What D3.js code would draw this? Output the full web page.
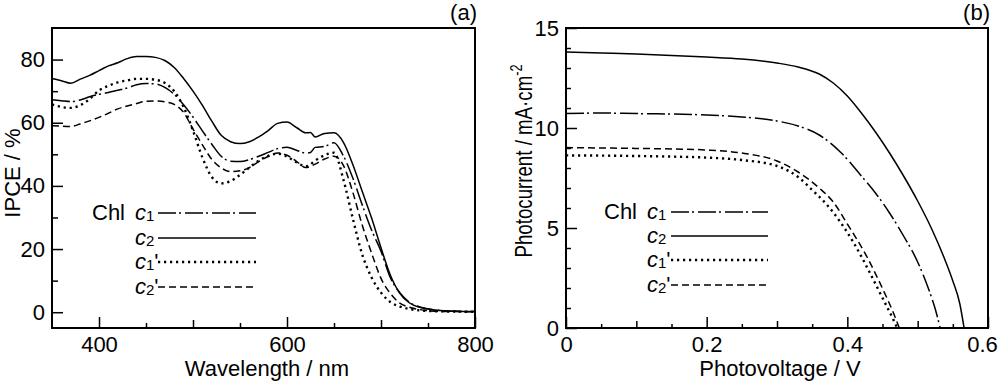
<!DOCTYPE html>
<html>
<head>
<meta charset="utf-8">
<script src="https://cdn.jsdelivr.net/npm/d3@7"></script>
<style>
  body { margin: 0; background: #fff; }
  svg { display: block; font-family: "Liberation Sans", Arial, sans-serif; }
  .tick line { stroke: #000; stroke-width: 1.5; }
  .tick text { font-size: 22px; fill: #000; }
  .curve { fill: none; stroke: #000; }
</style>
</head>
<body>
<div id="chart"></div>
<script>
// ---- data (a): IPCE spectra ----
var wavelength = [350,360,370,380,390,400,410,420,430,440,450,460,470,480,490,500,510,520,530,540,550,560,570,580,590,600,610,620,625,630,640,650,660,670,680,690,700,710,720,730,740,750,760,780,800];
var ipceC1  = [67.3,67,66.7,67.2,68.2,69,69.6,70.3,71,72,72.4,72.3,71.2,69,65.7,61.8,57.4,53.2,49.4,47.8,47.7,48.3,49.4,50.6,51.8,52.2,51.3,50.4,50.6,52.2,52.5,53.7,49.5,42.5,34,26,19.3,10.9,6.2,3.2,1.8,1.1,0.6,0.3,0.2];
var ipceC2  = [74,73.3,72.5,73.8,75,76.5,78,79,80.3,81,81,80.7,79.7,77.5,74,70,65.5,60.5,56,54,53.4,54,55.5,57.5,59.8,60.2,58.5,56.8,56.9,55.5,56.6,56.8,53.8,46.8,38.3,29.8,20.4,11.7,6,3,1.6,1,0.6,0.3,0.2];
var ipceC1p = [65.8,65,64.7,65.5,67.5,70.2,71.7,72.8,73.4,73.9,73.9,73.6,72.6,70,65,57.5,49,42.8,40.8,41.5,43.5,45.8,48,49.5,50.2,49.3,47.5,46.2,46.8,48,49.7,50.5,42,29.7,18.3,11,6.2,3.2,1.8,1,0.6,0.4,0.3,0.2,0.1];
var ipceC2p = [59.1,58.9,58.8,59.6,60.6,61.7,63,64.4,65.3,66.1,66.8,66.9,66.6,65.8,63.3,58,53,48.4,45.7,44.5,44.8,45.8,47.7,49.3,50.4,49.7,47.8,45.8,46.2,46.9,48.5,49.4,46.5,38,27.6,18.7,10.7,5.9,2.9,1.6,0.9,0.5,0.3,0.2,0.1];

// ---- data (b): J-V curves ----
var vC1  = [0,0.05,0.1,0.15,0.2,0.25,0.3,0.33,0.36,0.39,0.42,0.44,0.46,0.48,0.5,0.515,0.525,0.532];
var jC1  = [10.72,10.75,10.72,10.7,10.65,10.55,10.35,10.1,9.65,8.8,7.6,6.75,5.75,4.6,3.3,2.0,0.95,0];
var vC2  = [0,0.05,0.1,0.15,0.2,0.25,0.3,0.33,0.36,0.38,0.4,0.42,0.44,0.46,0.48,0.5,0.52,0.54,0.55,0.56,0.566];
var jC2  = [13.8,13.75,13.7,13.63,13.55,13.45,13.25,13.05,12.7,12.25,11.6,10.75,9.8,8.75,7.6,6.35,4.95,3.3,2.35,1.2,0];
var vC1p = [0,0.05,0.1,0.15,0.2,0.25,0.3,0.33,0.35,0.37,0.39,0.41,0.43,0.45,0.465,0.471];
var jC1p = [8.63,8.62,8.6,8.57,8.52,8.4,8.1,7.55,6.9,6.2,5.3,4.2,2.9,1.5,0.45,0];
var vC2p = [0,0.05,0.1,0.15,0.2,0.25,0.3,0.33,0.36,0.38,0.4,0.428,0.451,0.465,0.474];
var jC2p = [9.02,9.0,8.98,8.95,8.9,8.75,8.35,7.8,7.0,6.3,5.2,3.55,1.9,0.8,0];

var seriesNames = ["c1", "c2", "c1'", "c2'"];
var dashes = ["18,3,2,4", null, "2.2,3.8", "7,4"];

var svg = d3.select("#chart").append("svg")
    .attr("width", 1000)
    .attr("height", 382);

function pairs(xs, ys) {
  return xs.map(function(x, i) { return [x, ys[i]]; });
}

function drawPanel(opt) {
  var x = d3.scaleLinear().domain(opt.xDomain).range([opt.left, opt.right]);
  var y = d3.scaleLinear().domain(opt.yDomain).range([opt.bottom, opt.top]);
  var g = svg.append("g");

  // ticks: minor, medium, major (inward)
  opt.xTicks.forEach(function(t) {
    var ax = d3.axisBottom(x).tickValues(t.values).tickSizeInner(-t.size).tickSizeOuter(0).tickPadding(8)
      .tickFormat(t.label ? t.label : "");
    var a = g.append("g").attr("transform", "translate(0," + opt.bottom + ")").call(ax);
    a.select(".domain").remove();
  });
  opt.yTicks.forEach(function(t) {
    var ax = d3.axisLeft(y).tickValues(t.values).tickSizeInner(-t.size).tickSizeOuter(0).tickPadding(7)
      .tickFormat(t.label ? t.label : "");
    var a = g.append("g").attr("transform", "translate(" + opt.left + ",0)").call(ax);
    a.select(".domain").remove();
  });
  g.selectAll(".tick text").attr("font-family", null).attr("font-size", null);
  // last x label sits against the page edge
  if (opt.lastLabelShift) {
    g.selectAll(".tick text").filter(function(d) { return d === opt.xDomain[1]; })
      .attr("dx", opt.lastLabelShift);
  }

  // frame
  g.append("rect")
    .attr("x", opt.left).attr("y", opt.top)
    .attr("width", opt.right - opt.left).attr("height", opt.bottom - opt.top)
    .attr("fill", "none").attr("stroke", "#000").attr("stroke-width", 2);

  var line = d3.line()
    .x(function(d) { return x(d[0]); })
    .y(function(d) { return y(d[1]); })
    .curve(d3.curveMonotoneX);

  opt.series.forEach(function(s, i) {
    g.append("path")
      .attr("class", "curve")
      .attr("d", line(s))
      .attr("stroke-width", i == 2 ? 2.4 : 1.5)
      .attr("stroke-dasharray", dashes[i]);
  });

  // axis titles
  g.append("text")
    .attr("x", opt.xTitleX).attr("y", 376)
    .attr("text-anchor", "middle").attr("font-size", 22)
    .text(opt.xTitle);
  var yt = g.append("text")
    .attr("transform", "translate(" + opt.yTitlePos[0] + "," + opt.yTitlePos[1] + ") rotate(-90)" + (opt.yTitleScale || ""))
    .attr("text-anchor", "middle").attr("font-size", 22);
  opt.yTitle(yt);

  // panel label
  g.append("text")
    .attr("x", opt.tagX).attr("y", 20)
    .attr("text-anchor", "end").attr("font-size", 22)
    .text(opt.tag);

  // legend
  var lg = opt.legend;
  g.append("text").attr("x", lg.chlX).attr("y", lg.rows[0] + 7).attr("font-size", 22).text("Chl");
  seriesNames.forEach(function(name, i) {
    var t = g.append("text").attr("x", lg.cX).attr("y", lg.rows[i] + 7).attr("font-size", 22);
    t.append("tspan").attr("font-style", "italic").text("c");
    t.append("tspan").attr("font-size", 15).attr("dy", 1).text(name.charAt(1));
    if (name.length > 2) t.append("tspan").attr("dy", -1).text("'");
    g.append("line")
      .attr("x1", lg.x1).attr("x2", lg.x2)
      .attr("y1", lg.rows[i]).attr("y2", lg.rows[i])
      .attr("stroke", "#000")
      .attr("stroke-width", i == 2 ? 2.4 : 1.5)
      .attr("stroke-dasharray", dashes[i]);
  });
}

drawPanel({
  left: 52, right: 475, top: 28, bottom: 328,
  xDomain: [350, 800], yDomain: [-5, 90],
  xTicks: [
    {values: [450, 550, 650, 750], size: 5},
    {values: [500, 700], size: 8},
    {values: [400, 600, 800], size: 11, label: d3.format("d")}
  ],
  yTicks: [
    {values: [10, 30, 50, 70], size: 6},
    {values: [0, 20, 40, 60, 80], size: 11, label: d3.format("d")}
  ],
  series: [pairs(wavelength, ipceC1), pairs(wavelength, ipceC2), pairs(wavelength, ipceC1p), pairs(wavelength, ipceC2p)],
  xTitle: "Wavelength / nm", xTitleX: 267,
  yTitlePos: [20, 173],
  yTitle: function(t) { t.text("IPCE / %"); },
  tag: "(a)", tagX: 477,
  legend: {chlX: 92, cX: 135, x1: 158, x2: 256, rows: [213, 238, 262, 287]}
});

drawPanel({
  left: 566, right: 988, top: 28, bottom: 328,
  xDomain: [0, 0.6], yDomain: [0, 15],
  xTicks: [
    {values: [0.05, 0.15, 0.25, 0.35, 0.45, 0.55], size: 4},
    {values: [0.1, 0.3, 0.5], size: 7},
    {values: [0, 0.2, 0.4, 0.6], size: 11, label: function(d) { return d === 0 ? "0" : d3.format(".1f")(d); }}
  ],
  yTicks: [
    {values: [1, 2, 3, 4, 6, 7, 8, 9, 11, 12, 13, 14], size: 5},
    {values: [0, 5, 10, 15], size: 11, label: d3.format("d")}
  ],
  lastLabelShift: -6,
  series: [pairs(vC1, jC1), pairs(vC2, jC2), pairs(vC1p, jC1p), pairs(vC2p, jC2p)],
  xTitle: "Photovoltage / V", xTitleX: 780,
  yTitlePos: [532, 161],
  yTitleScale: " scale(0.85,1.12)",
  yTitle: function(t) {
    t.append("tspan").text("Photocurrent / mA\u00B7cm");
    t.append("tspan").attr("font-size", 15).attr("dy", -9).text("-2");
  },
  tag: "(b)", tagX: 990,
  legend: {chlX: 604, cX: 647, x1: 671, x2: 768, rows: [212, 236, 260, 285]}
});
</script>
</body>
</html>
